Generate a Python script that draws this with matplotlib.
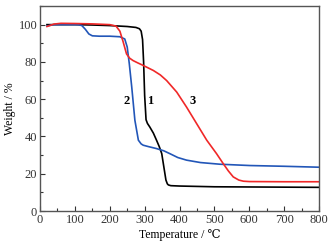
import matplotlib
matplotlib.use("Agg")
import matplotlib.pyplot as plt
import numpy as np
from matplotlib.ticker import MultipleLocator

plt.rcParams['font.family'] = ['Liberation Serif', 'DejaVu Serif', 'DejaVu Sans']
plt.rcParams['mathtext.fontset'] = 'stix'

# Curve 1 (black)
t1 = [20, 60, 100, 150, 200, 250, 275, 285, 290, 294, 297, 300, 304, 308, 315, 325, 334, 342, 349, 355, 361, 365, 368, 375, 400, 450, 500, 600, 700, 800]
w1 = [100, 100, 100, 99.8, 99.5, 99, 98.5, 97.8, 96.5, 92, 80, 62, 49, 47, 45, 41.8, 38, 34.5, 30.8, 23.7, 16.6, 14.6, 14, 13.6, 13.4, 13.2, 13, 12.9, 12.8, 12.7]
# Curve 2 (blue)
t2 = [20, 40, 80, 110, 120, 130, 140, 150, 170, 200, 229, 243, 250, 256, 263, 272, 282, 290, 296, 310, 334, 355, 372, 395, 420, 460, 516, 602, 700, 800]
w2 = [99.3, 100, 100, 100, 99.5, 97.5, 95, 94, 93.8, 93.8, 93.5, 92.3, 88, 79, 66.5, 48.7, 38, 36, 35.3, 34.6, 33.5, 32.3, 30.8, 28.7, 27.3, 26, 25.1, 24.4, 24, 23.5]
# Curve 3 (red)
t3 = [20, 40, 60, 100, 150, 200, 218, 229, 238, 248, 257, 267, 280, 296, 325, 345, 363, 392, 420, 449, 478, 506, 525, 540, 554, 570, 583, 600, 700, 800]
w3 = [99, 100.3, 100.7, 100.6, 100.4, 100, 99.2, 96.5, 91, 84.3, 82, 80.7, 79.5, 78.1, 75.4, 73, 70, 63.8, 55.8, 46.9, 38, 30.8, 25.5, 21.5, 18.3, 16.6, 16, 15.8, 15.7, 15.7]

labels = ["1", "2", "3"]
label_pos = [(317, 59), (248, 59), (437, 59)]

fig = plt.figure(figsize=(3.32, 2.47), dpi=100)
ax = fig.add_axes([0.1205, 0.1457, 0.8405, 0.83])
ax.plot(t1, w1, color='black', lw=1.2)
ax.plot(t2, w2, color='#2256b8', lw=1.2)
ax.plot(t3, w3, color='#f02828', lw=1.2)
for lab, (x, y) in zip(labels, label_pos):
    ax.text(x, y, lab, fontsize=9, fontweight='bold', ha='center', va='center')

ax.set_xlim(0, 800)
ax.set_ylim(0, 110)
ax.xaxis.set_major_locator(MultipleLocator(100))
ax.xaxis.set_minor_locator(MultipleLocator(50))
ax.yaxis.set_major_locator(MultipleLocator(20))
ax.yaxis.set_minor_locator(MultipleLocator(10))
ax.tick_params(which='both', direction='in', labelsize=9, colors='#333333', pad=2)
ax.tick_params(which='major', length=3.5, width=0.8)
ax.tick_params(which='minor', length=2, width=0.8)
for s in ax.spines.values():
    s.set_color('#555555')
    s.set_linewidth(1.0)
ax.set_xlabel('Temperature / ℃', fontsize=8.5, labelpad=2)
ax.set_ylabel('Weight / %', fontsize=8.5, labelpad=2)
fig.savefig('out.png', dpi=100)
